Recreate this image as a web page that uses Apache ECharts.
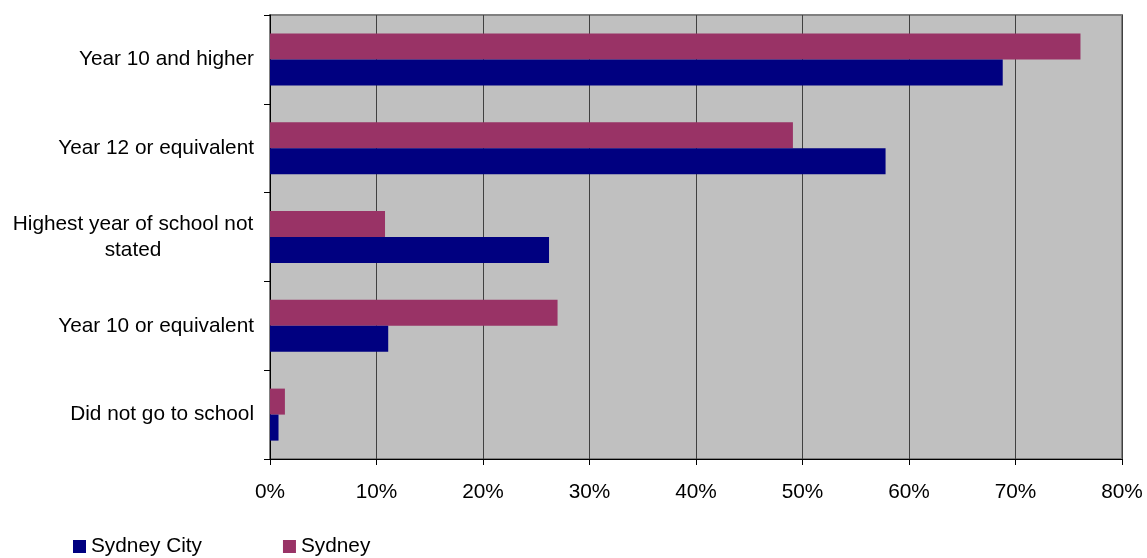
<!DOCTYPE html>
<html>
<head>
<meta charset="utf-8">
<script src="https://cdn.jsdelivr.net/npm/echarts@6/dist/echarts.min.js"></script>
<style>
  html, body { margin: 0; padding: 0; background: #ffffff; }
  #chart { width: 1147px; height: 558px; }
</style>
</head>
<body>
<div id="chart"></div>
<script>
// Highest year of school completed, share of population
const categories = [
  'Did not go to school',
  'Year 10 or equivalent',
  'Highest year of school not\nstated',
  'Year 12 or equivalent',
  'Year 10 and higher'
];
const sydneyCity = [0.8, 11.1, 26.2, 57.8, 68.8];
const sydney = [1.4, 27.0, 10.8, 49.1, 76.1];
const xTicks = [0, 10, 20, 30, 40, 50, 60, 70, 80];

const FONT = '"Liberation Sans", Arial, sans-serif';
const FS = 20.8;

const chart = echarts.init(document.getElementById('chart'), null, { renderer: 'canvas' });

chart.setOption({
  animation: false,
  backgroundColor: '#ffffff',
  textStyle: { fontFamily: FONT },
  grid: {
    left: 270, right: 25, top: 15, bottom: 99,
    show: true,
    backgroundColor: '#C0C0C0',
    borderColor: '#808080',
    borderWidth: 2
  },
  legend: {
    left: 68, top: 531,
    icon: 'rect',
    itemWidth: 13, itemHeight: 13,
    itemGap: 81, itemTextGap: 6,
    textStyle: { color: '#000', fontSize: FS, fontFamily: FONT },
    data: ['Sydney City', 'Sydney']
  },
  xAxis: {
    type: 'value',
    min: xTicks[0],
    max: xTicks[xTicks.length - 1],
    interval: 10,
    axisLine: { show: true, lineStyle: { color: '#000', width: 1 } },
    axisTick: { show: true, length: 6, lineStyle: { color: '#000' } },
    axisLabel: {
      color: '#000', fontSize: FS, fontFamily: FONT, margin: 23,
      formatter: v => v + '%'
    },
    splitLine: { show: true, lineStyle: { color: '#404040', width: 1 } }
  },
  yAxis: {
    type: 'category',
    data: categories,
    axisLine: { show: true, lineStyle: { color: '#000', width: 1 } },
    axisTick: { show: true, length: 6, lineStyle: { color: '#000' } },
    axisLabel: {
      color: '#000', fontSize: FS, fontFamily: FONT, margin: 16,
      lineHeight: 26,
      formatter: v => v.indexOf('\n') >= 0
        ? v.split('\n').map(s => '{c|' + s + '}').join('\n')
        : v,
      rich: {
        c: { width: 242, align: 'center', fontSize: FS, fontFamily: FONT, color: '#000', lineHeight: 26 }
      }
    },
    splitLine: { show: false }
  },
  // Sydney listed first so its bar sits above Sydney City within each category
  series: [
    {
      name: 'Sydney',
      type: 'bar',
      data: sydney,
      barWidth: 26,
      barGap: '0%',
      itemStyle: { color: '#993366' }
    },
    {
      name: 'Sydney City',
      type: 'bar',
      data: sydneyCity,
      barWidth: 26,
      barGap: '0%',
      itemStyle: { color: '#000080' }
    }
  ]
});
</script>
</body>
</html>
